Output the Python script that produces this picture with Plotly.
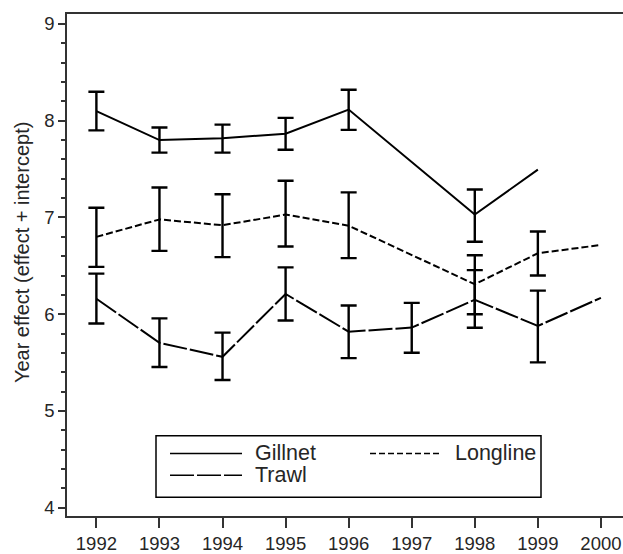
import plotly.graph_objects as go

# Year effect estimates (effect + intercept) with their interval bounds
years = [1992, 1993, 1994, 1995, 1996, 1997, 1998, 1999, 2000]

gillnet = [8.10, 7.80, 7.82, 7.865, 8.115, None, 7.03, 7.495, None]
gillnet_hi = [8.30, 7.93, 7.96, 8.03, 8.32, None, 7.29, None, None]
gillnet_lo = [7.90, 7.67, 7.67, 7.70, 7.905, None, 6.75, None, None]

longline = [6.80, 6.98, 6.92, 7.03, 6.915, None, 6.31, 6.63, 6.716]
longline_hi = [7.10, 7.31, 7.24, 7.38, 7.26, None, 6.61, 6.855, None]
longline_lo = [6.49, 6.655, 6.59, 6.70, 6.58, None, 6.00, 6.40, None]

trawl = [6.16, 5.705, 5.56, 6.21, 5.82, 5.862, 6.15, 5.879, 6.17]
trawl_hi = [6.42, 5.957, 5.81, 6.484, 6.09, 6.118, 6.456, 6.244, None]
trawl_lo = [5.905, 5.455, 5.32, 5.936, 5.547, 5.602, 5.86, 5.503, None]

y_ticks = [4, 5, 6, 7, 8, 9]

FONT = "Liberation Sans, Arial, sans-serif"
INK = "#000000"
TEXT = "#262626"
AXIS = "#333333"

W, H = 623, 554
ML, MR, MT, MB = 67, 0, 14, 34
PW, PH = W - ML - MR, H - MT - MB


def add_series(fig, name, vals, hi, lo, dash):
    # connecting line (gaps bridged)
    fig.add_trace(go.Scatter(
        x=years, y=vals, name=name, mode="lines", connectgaps=True,
        line=dict(color=INK, width=2, dash=dash), showlegend=False,
    ))
    # interval bars only where bounds exist
    xs, ys, plus, minus = [], [], [], []
    for x, v, h, l in zip(years, vals, hi, lo):
        if v is not None and h is not None and l is not None:
            xs.append(x)
            ys.append(v)
            plus.append(h - v)
            minus.append(v - l)
    fig.add_trace(go.Scatter(
        x=xs, y=ys, name=name + " interval", mode="markers",
        marker=dict(size=1, color="rgba(0,0,0,0)"), showlegend=False,
        error_y=dict(type="data", array=plus, arrayminus=minus, symmetric=False,
                     color=INK, thickness=2.4, width=8),
    ))


fig = go.Figure()
add_series(fig, "Gillnet", gillnet, gillnet_hi, gillnet_lo, "solid")
add_series(fig, "Longline", longline, longline_hi, longline_lo, "7px,3px")
add_series(fig, "Trawl", trawl, trawl_hi, trawl_lo, "24px,3px")


# pixel helpers for the boxed key and the axis caption
def px(xp):
    return (xp - ML) / PW


def py(yp):
    return (H - MB - yp) / PH


shapes = [
    dict(type="rect", xref="paper", yref="paper",
         x0=px(156), x1=px(541), y0=py(501), y1=py(439),
         line=dict(color=INK, width=1.5), fillcolor="white"),
]
annotations = []
key = [
    ("Gillnet", "solid", 170, 242, 457),
    ("Longline", "6px,3px", 370, 442, 457),
    ("Trawl", "24px,3px", 170, 242, 479),
]
for label, dash, xa, xb, yy in key:
    shapes.append(dict(type="line", xref="paper", yref="paper",
                       x0=px(xa), x1=px(xb), y0=py(yy), y1=py(yy),
                       line=dict(color=INK, width=1.5, dash=dash)))
    annotations.append(dict(text=label, xref="paper", yref="paper",
                            x=px(xb + 11), y=py(yy), xanchor="left", yanchor="middle",
                            showarrow=False, font=dict(family=FONT, size=21.5, color=TEXT)))

annotations.append(dict(text="Year effect (effect + intercept)", xref="paper", yref="paper",
                        x=px(22), y=py(255), textangle=-90, xanchor="center",
                        yanchor="middle", showarrow=False,
                        font=dict(family=FONT, size=20, color=TEXT)))

fig.update_layout(
    width=W, height=H,
    margin=dict(l=ML, r=MR, t=MT, b=MB),
    paper_bgcolor="white", plot_bgcolor="white",
    showlegend=False,
    shapes=shapes, annotations=annotations,
    font=dict(family=FONT, color=TEXT),
    xaxis=dict(range=[1991.534, 2000.35], tickmode="array", tickvals=years,
               ticktext=[str(y) for y in years],
               showgrid=False, zeroline=False, showline=True, mirror=True,
               linecolor=AXIS, linewidth=1.5, ticks="outside", ticklen=10,
               tickwidth=1.5, tickcolor=AXIS, tickfont=dict(size=18.5, color=TEXT)),
    yaxis=dict(range=[3.915, 9.103], tickmode="array", tickvals=y_ticks,
               showgrid=False, zeroline=False, showline=True, mirror=False,
               linecolor=AXIS, linewidth=1.5, ticks="outside", ticklen=7,
               tickwidth=1.5, tickcolor=AXIS, tickfont=dict(size=18.5, color=TEXT),
               minor=dict(dtick=0.2, ticks="outside", ticklen=4, tickwidth=1.5,
                          tickcolor=AXIS, showgrid=False)),
)

fig.write_html("out.html")
